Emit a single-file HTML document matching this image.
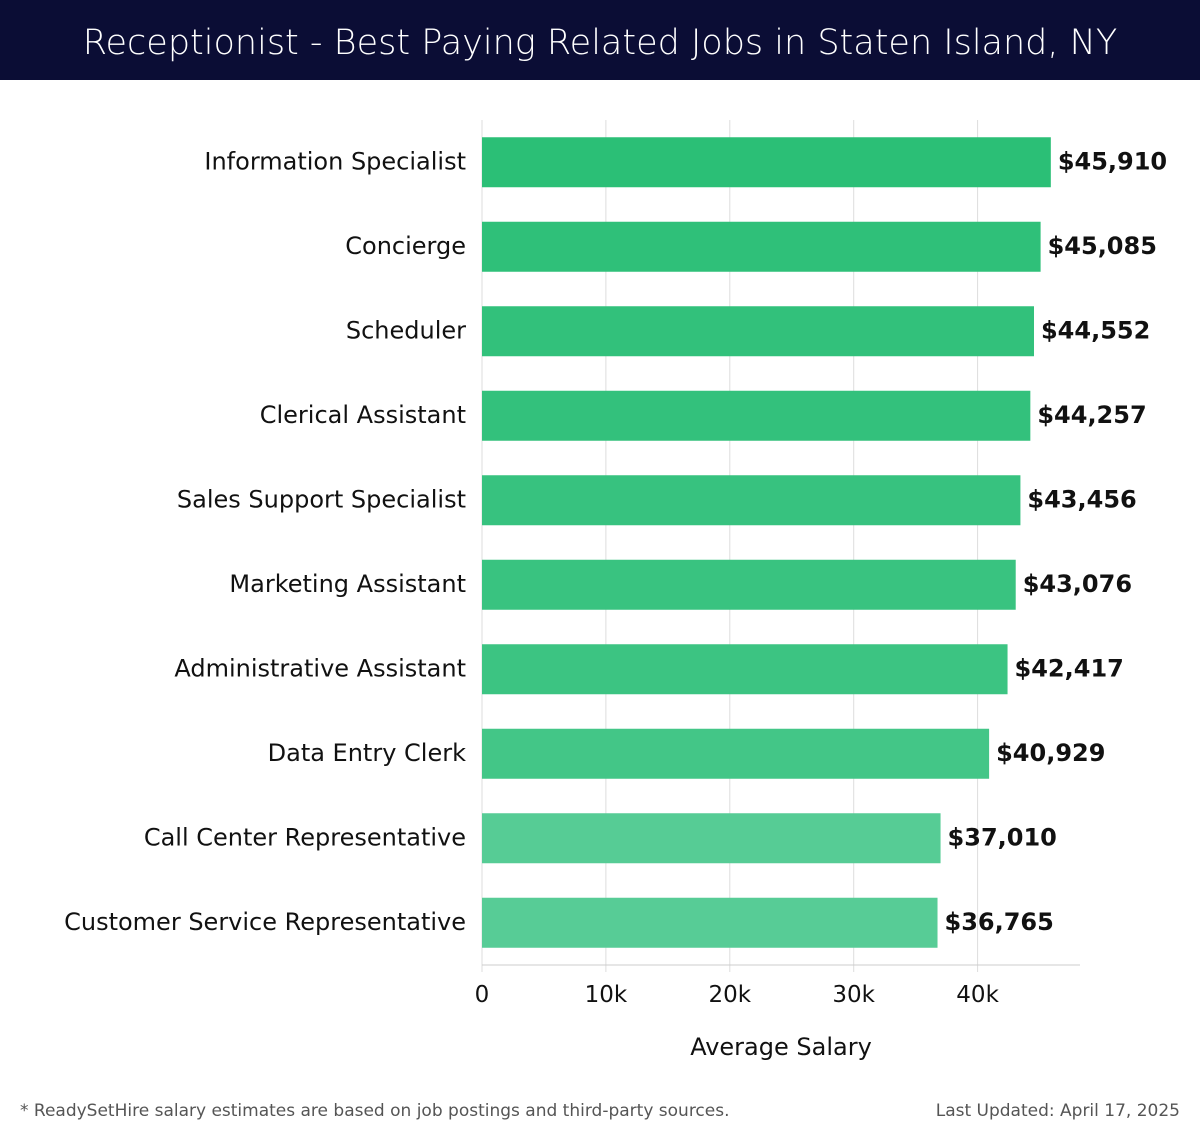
<!DOCTYPE html>
<html><head><meta charset="utf-8"><style>
body{margin:0;width:1200px;height:1140px;background:#fff;font-family:"Liberation Sans","DejaVu Sans",sans-serif;overflow:hidden}
#title{position:absolute;left:0;top:0;width:1200px;height:80px;background:#0b0d35;color:#fff;font-family:"DejaVu Sans","Liberation Sans",sans-serif;font-size:35px;line-height:86px;text-align:center;font-weight:300}
.foot{position:absolute;top:1101px;font-size:17px;color:#555;font-family:"DejaVu Sans",sans-serif}
</style></head><body>
<div id="title">Receptionist - Best Paying Related Jobs in Staten Island, NY</div>
<svg id="chart" width="1200" height="1140" style="position:absolute;left:0;top:0"></svg>
<div class="foot" style="left:20px">* ReadySetHire salary estimates are based on job postings and third-party sources.</div>
<div class="foot" style="right:20px">Last Updated: April 17, 2025</div>
<script>
const categories=["Information Specialist","Concierge","Scheduler","Clerical Assistant","Sales Support Specialist","Marketing Assistant","Administrative Assistant","Data Entry Clerk","Call Center Representative","Customer Service Representative"];
const salaries=[45910,45085,44552,44257,43456,43076,42417,40929,37010,36765];
const tickValues=[0,10000,20000,30000,40000];
const tickLabels=["0","10k","20k","30k","40k"];
const NS="http://www.w3.org/2000/svg";
const svg=document.getElementById('chart');
const x0=482,pxPer=12.39,top0=120,band=84.5,barH=50;
const x=v=>x0+v*pxPer/1000;
const y=i=>top0+i*band+band/2;
function mk(t,a){const e=document.createElementNS(NS,t);for(const k in a)e.setAttribute(k,a[k]);svg.appendChild(e);return e;}
tickValues.forEach((v,i)=>{
 const g=mk('line',{x1:x(v),x2:x(v),y1:top0,y2:972,stroke:'#ddd','stroke-width':1});
 
 
 const t=mk('text',{x:x(v),y:1002,'text-anchor':'middle','font-size':23,fill:'#111','font-family':'DejaVu Sans, sans-serif'});
 t.textContent=tickLabels[i];
 
 
});
const ax=mk('line',{x1:x0,x2:1080,y1:965,y2:965,stroke:'#ccc','stroke-width':1});


const mn=Math.min(...salaries),mx=Math.max(...salaries);
function col(v){const f=(v-mn)/(mx-mn||1);const a=[87,204,150],b=[43,191,118];return 'rgb('+a.map((c,k)=>Math.round(c+(b[k]-c)*f)).join(',')+')';}
categories.forEach((c,i)=>{
 const r=mk('rect',{x:x0,y:y(i)-barH/2,width:x(salaries[i])-x0,height:barH,fill:col(salaries[i])});
 
 
 const l=mk('text',{x:466,y:y(i)+7,'text-anchor':'end','font-size':24,fill:'#111','font-family':'DejaVu Sans, sans-serif'});
 l.textContent=c;
 
 
 const vl=mk('text',{x:x(salaries[i])+7,y:y(i)+7,'font-size':24,'font-weight':'bold',fill:'#111','font-family':'DejaVu Sans, sans-serif'});
 vl.textContent='$'+salaries[i].toLocaleString('en-US');
 
 
});
const at=mk('text',{x:781,y:1055,'text-anchor':'middle','font-size':24,fill:'#111','font-family':'DejaVu Sans, sans-serif'});
at.textContent='Average Salary';


</script>
</body></html>
